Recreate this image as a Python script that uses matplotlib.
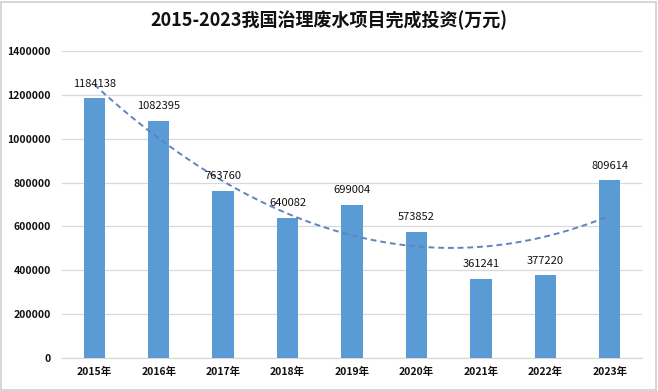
import numpy as np
import matplotlib
matplotlib.use("Agg")
import matplotlib.pyplot as plt
from matplotlib.patches import Rectangle

plt.rcParams['font.family'] = ['Noto Sans CJK SC', 'DejaVu Sans']

years = ["2015年", "2016年", "2017年", "2018年", "2019年", "2020年", "2021年", "2022年", "2023年"]
values = [1184138, 1082395, 763760, 640082, 699004, 573852, 361241, 377220, 809614]
title = "2015-2023我国治理废水项目完成投资(万元)"
yticks = [0, 200000, 400000, 600000, 800000, 1000000, 1200000, 1400000]

bar_color = "#5B9BD5"
trend_color = "#5F84BE"

fig = plt.figure(figsize=(6.58, 3.91), dpi=100)
ax = fig.add_axes([62/658, 1 - 358/391, 580/658, 307/391])

x = np.arange(len(years))
ax.bar(x, values, width=0.33, color=bar_color, zorder=3)

# polynomial (order 2) trendline
coef = np.polyfit(x, values, 2)
xs = np.linspace(0, len(years) - 1, 200)
ax.plot(xs, np.polyval(coef, xs), linestyle=(0, (3, 2)), color=trend_color, lw=1.4, zorder=4)

for xi, v in zip(x, values):
    ax.annotate(f"{v}", (xi, v), xytext=(0, 7), textcoords="offset points",
                ha="center", va="bottom", fontsize=8, fontweight="medium", color="#111111", zorder=5)

ax.set_xlim(-0.5, len(years) - 0.5)
ax.set_ylim(0, 1400000)
ax.set_yticks(yticks)
ax.set_yticklabels([str(t) for t in yticks])
ax.set_xticks(x)
ax.set_xticklabels(years)
ax.tick_params(axis='both', length=0, labelsize=7.5, colors="#111111")
ax.tick_params(axis='y', pad=8)
ax.tick_params(axis='x', pad=6)
for lbl in ax.get_xticklabels() + ax.get_yticklabels():
    lbl.set_fontweight("bold")

ax.grid(axis='y', color="#D9D9D9", lw=0.9, zorder=0)
for s in ["top", "right", "left"]:
    ax.spines[s].set_visible(False)
ax.spines["bottom"].set_color("#D9D9D9")
ax.spines["bottom"].set_linewidth(0.9)

fig.text(0.5, 1 - 20/391, title, ha="center", va="center", fontsize=13, fontweight="bold", color="#111111")

fig.patches.append(Rectangle((0.002, 0.003), 0.995, 0.993, transform=fig.transFigure,
                             fill=False, edgecolor="#D0D0D0", lw=1.2))

fig.savefig("out.png", dpi=100)
